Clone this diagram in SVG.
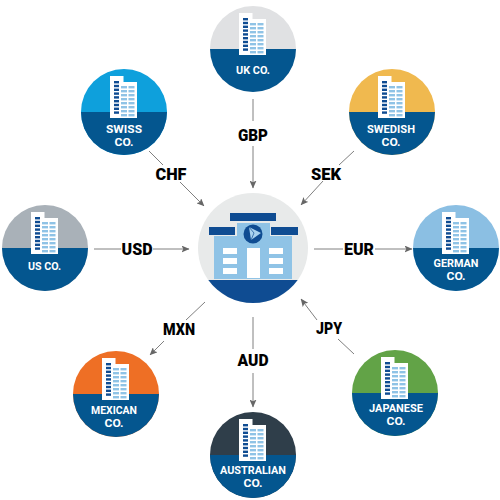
<svg xmlns="http://www.w3.org/2000/svg" xmlns:xlink="http://www.w3.org/1999/xlink" width="500" height="500" viewBox="0 0 500 500">
<style>
.lbl{font-family:"Roboto","Liberation Sans",sans-serif;font-weight:900;font-size:16px;fill:#000;text-anchor:middle}
.co{font-family:"Roboto","Liberation Sans",sans-serif;font-weight:700;font-size:11px;fill:#fff;text-anchor:middle}
.lo{fill:#04568f}
.cn{stroke:#808080;stroke-width:1;fill:none}
.d{fill:#0f4c92}
.l{fill:#8fc3e6}
.w{fill:#fff}
</style>
<defs>
<marker id="ah" markerUnits="userSpaceOnUse" markerWidth="8" markerHeight="7" refX="7.500" refY="3.500" orient="auto" viewBox="0 0 8 7"><path d="M0 0L8 3.500L0 7L1.800 3.500Z" fill="#666"/></marker>
<clipPath id="low"><rect x="-50" y="0" width="100" height="50"/></clipPath>
<g id="bld">
<rect class="w" x="-14" y="-36" width="13.500" height="42"/>
<rect class="w" x="-1" y="-30" width="14" height="36"/>
<g class="d"><rect x="-10" y="-31" width="5" height="2.400"/><rect x="-10" y="-27.200" width="5" height="2.400"/><rect x="-10" y="-23.400" width="5" height="2.400"/><rect x="-10" y="-19.600" width="5" height="2.400"/><rect x="-10" y="-15.800" width="5" height="2.400"/><rect x="-10" y="-12" width="5" height="2.400"/><rect x="-10" y="-8.200" width="5" height="2.400"/><rect x="-10" y="-4.400" width="5" height="2.400"/><rect x="-10" y="-.6" width="5" height="2.400"/></g>
<g class="l"><rect x="-3" y="-26" width="6" height="2.400"/><rect x="4.500" y="-26" width="6" height="2.400"/><rect x="-3" y="-22" width="6" height="2.400"/><rect x="4.500" y="-22" width="6" height="2.400"/><rect x="-3" y="-18" width="6" height="2.400"/><rect x="4.500" y="-18" width="6" height="2.400"/><rect x="-3" y="-14" width="6" height="2.400"/><rect x="4.500" y="-14" width="6" height="2.400"/><rect x="-3" y="-10" width="6" height="2.400"/><rect x="4.500" y="-10" width="6" height="2.400"/><rect x="-3" y="-6" width="6" height="2.400"/><rect x="4.500" y="-6" width="6" height="2.400"/><rect x="-3" y="-2" width="6" height="2.400"/><rect x="4.500" y="-2" width="6" height="2.400"/><rect x="-3" y="2" width="6" height="2.400"/><rect x="4.500" y="2" width="6" height="2.400"/></g>
</g>
<g id="disc">
<circle r="43" class="lo" clip-path="url(#low)"/>
<use xlink:href="#bld" href="#bld"/>
</g>
</defs>

<g id="connectors">
<path class="cn" d="M253 99V121M253 146V188" marker-end="url(#ah)"/>
<path class="cn" d="M149 151L163 165M180 182L204 206" marker-end="url(#ah)"/>
<path class="cn" d="M354 151L339 165M323 181L301 205" marker-end="url(#ah)"/>
<path class="cn" d="M94 249H121M153 249H189" marker-end="url(#ah)"/>
<path class="cn" d="M314 249H343M375 249H412" marker-end="url(#ah)"/>
<path class="cn" d="M205 302L186 320M164 341L150 355" marker-end="url(#ah)"/>
<path class="cn" d="M354 354L338 339M317 320L301 299" marker-end="url(#ah)"/>
<path class="cn" d="M253 317V349M253 373V407" marker-end="url(#ah)"/>
</g>

<g id="bank">
<circle cx="253" cy="248" r="55" fill="#e8eaea"/>
<path d="M208.300 280H297.700A55 55 0 0 1 208.300 280Z" fill="#0f4c92"/>
<rect x="214" y="236" width="78" height="43" class="l"/>
<rect x="237" y="223" width="33" height="15" class="l"/>
<rect x="230" y="213" width="46" height="8" class="d"/>
<rect x="209" y="227" width="26" height="8" class="d"/>
<rect x="271" y="227" width="27" height="8" class="d"/>
<rect x="247" y="248" width="13" height="30" class="w"/>
<rect x="223" y="248" width="14" height="6" class="w"/><rect x="223" y="258" width="14" height="6" class="w"/><rect x="223" y="268" width="14" height="6" class="w"/>
<rect x="269" y="248" width="14" height="6" class="w"/><rect x="269" y="258" width="14" height="6" class="w"/><rect x="269" y="268" width="14" height="6" class="w"/>
<circle cx="253" cy="234" r="9.500" class="d"/>
<path d="M249 227L261 233L251 240Z" fill="#a9d2ee"/>
<path d="M249 227L254 233L251 240" fill="none" stroke="#0f4c92" stroke-width=".7"/>
</g>

<g id="uk"><circle cx="253" cy="49" r="43" fill="#e0e1e3"/><use xlink:href="#disc" href="#disc" x="253" y="49"/><text class="co" x="253" y="74" textLength="34" lengthAdjust="spacingAndGlyphs">UK CO.</text></g>
<g id="swiss"><circle cx="124" cy="112" r="43" fill="#0ea0dc"/><use xlink:href="#disc" href="#disc" x="124" y="112"/><text class="co" x="124" y="133" textLength="36" lengthAdjust="spacingAndGlyphs">SWISS</text><text class="co" x="124" y="146" textLength="19" lengthAdjust="spacingAndGlyphs">CO.</text></g>
<g id="swedish"><circle cx="392" cy="112" r="43" fill="#f0b94f"/><use xlink:href="#disc" href="#disc" x="392" y="112"/><text class="co" x="391" y="132.500" textLength="48" lengthAdjust="spacingAndGlyphs">SWEDISH</text><text class="co" x="391" y="145.500" textLength="19" lengthAdjust="spacingAndGlyphs">CO.</text></g>
<g id="us"><circle cx="45" cy="248" r="43" fill="#a9b1b8"/><use xlink:href="#disc" href="#disc" x="45" y="248"/><text class="co" x="44.500" y="270" textLength="33" lengthAdjust="spacingAndGlyphs">US CO.</text></g>
<g id="german"><circle cx="456" cy="248" r="43" fill="#8bbfe3"/><use xlink:href="#disc" href="#disc" x="456" y="248"/><text class="co" x="456" y="267" textLength="45" lengthAdjust="spacingAndGlyphs">GERMAN</text><text class="co" x="456" y="280" textLength="19" lengthAdjust="spacingAndGlyphs">CO.</text></g>
<g id="mexican"><circle cx="116" cy="394" r="43" fill="#ee6f25"/><use xlink:href="#disc" href="#disc" x="116" y="394"/><text class="co" x="114" y="414" textLength="46" lengthAdjust="spacingAndGlyphs">MEXICAN</text><text class="co" x="114" y="427" textLength="19" lengthAdjust="spacingAndGlyphs">CO.</text></g>
<g id="japanese"><circle cx="395" cy="393" r="43" fill="#62a347"/><use xlink:href="#disc" href="#disc" x="395" y="393"/><text class="co" x="396" y="411.500" textLength="54" lengthAdjust="spacingAndGlyphs">JAPANESE</text><text class="co" x="396" y="424.500" textLength="19" lengthAdjust="spacingAndGlyphs">CO.</text></g>
<g id="australian"><circle cx="253" cy="455" r="43" fill="#2f3e4a"/><use xlink:href="#disc" href="#disc" x="253" y="455"/><text class="co" x="253" y="474" textLength="66" lengthAdjust="spacingAndGlyphs">AUSTRALIAN</text><text class="co" x="253" y="487" textLength="19" lengthAdjust="spacingAndGlyphs">CO.</text></g>

<g id="labels">
<text class="lbl" x="253" y="141" textLength="30" lengthAdjust="spacingAndGlyphs">GBP</text>
<text class="lbl" x="171" y="180" textLength="31" lengthAdjust="spacingAndGlyphs">CHF</text>
<text class="lbl" x="326" y="180" textLength="30" lengthAdjust="spacingAndGlyphs">SEK</text>
<text class="lbl" x="137" y="255" textLength="31" lengthAdjust="spacingAndGlyphs">USD</text>
<text class="lbl" x="359" y="255" textLength="30" lengthAdjust="spacingAndGlyphs">EUR</text>
<text class="lbl" x="179" y="335" textLength="32" lengthAdjust="spacingAndGlyphs">MXN</text>
<text class="lbl" x="329" y="334" textLength="26" lengthAdjust="spacingAndGlyphs">JPY</text>
<text class="lbl" x="253" y="366" textLength="31" lengthAdjust="spacingAndGlyphs">AUD</text>
</g>
</svg>
